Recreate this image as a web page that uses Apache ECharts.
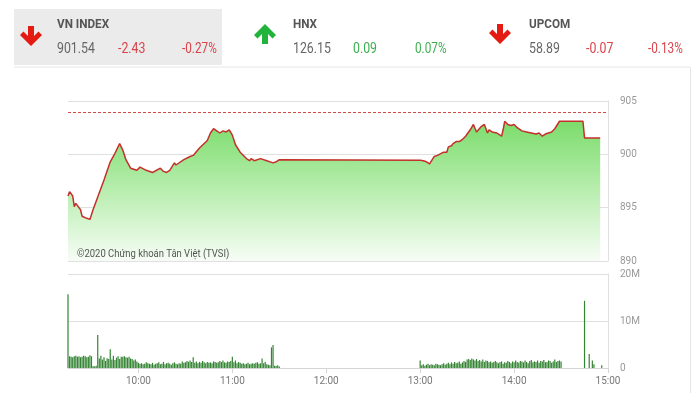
<!DOCTYPE html>
<html><head><meta charset="utf-8">
<script src="https://cdn.jsdelivr.net/npm/echarts@6/dist/echarts.min.js"></script>
<style>html,body{margin:0;padding:0;background:#fff}#c{width:700px;height:393px}</style>
</head><body><div id="c"></div>
<script>
// ---- Header tickers ----
const tickerNames = ['VN INDEX', 'HNX', 'UPCOM'];
const tickerValues = ['901.54', '126.15', '58.89'];
const tickerChanges = ['-2.43', '0.09', '-0.07'];
const tickerPercents = ['-0.27%', '0.07%', '-0.13%'];
const tickerUp = [false, true, false];

// ---- Intraday index line ----
const priceTimes = ['9:15','9:16','9:18','9:19','9:20','9:23','9:24','9:27','9:29','9:31','9:34','9:38','9:42','9:45','9:48','9:50','9:52','9:55','9:56','9:59',
 '10:01','10:05','10:09','10:14','10:16','10:18','10:20','10:23','10:24','10:29','10:33','10:35','10:39','10:44','10:46','10:48','10:50','10:52','10:54','10:56','10:58',
 '11:00','11:02','11:05','11:09','11:11','11:12','11:14','11:18','11:22','11:26','11:28','11:30',
 '13:00','13:02','13:04','13:06','13:09','13:11','13:15','13:17','13:18','13:20','13:21','13:23','13:25','13:27','13:29','13:32','13:34','13:35','13:36','13:39','13:41','13:42','13:43','13:44','13:46','13:49','13:52','13:53','13:54','13:56','13:58',
 '14:00','14:02','14:05','14:06','14:08','14:11','14:14','14:16','14:18','14:20','14:22','14:24','14:26','14:29','14:31','14:44','14:45','14:55'];
const priceValues = [896.1,896.5,896.1,895.1,895.4,894.8,894.2,894.0,893.9,894.8,896.0,897.6,899.3,900.1,901.0,900.4,899.5,898.7,898.7,898.5,
 898.8,898.5,898.3,898.7,898.4,898.3,898.5,899.2,899.0,899.5,899.8,899.9,900.6,901.3,902.0,902.4,902.2,902.0,902.2,902.1,902.3,
 901.8,900.9,900.2,899.6,899.4,899.6,899.4,899.6,899.4,899.2,899.3,899.5,
 899.45,899.4,899.3,899.1,899.8,899.9,900.2,900.2,900.7,900.8,901.0,901.2,901.2,901.4,901.7,902.3,902.8,902.8,902.1,902.6,902.8,902.4,902.0,902.3,902.1,902.0,901.7,902.3,903.1,902.8,902.7,
 902.8,902.5,902.2,902.3,902.1,902.0,901.9,902.0,901.7,901.9,902.0,902.1,902.4,903.1,903.1,903.1,901.54,901.54];
const refClose = 903.97;

// ---- Volume (millions), one bar per minute ----
const volAMStart = '9:15';
const volAM = [15.7,
 2.5,2.4,2.3,2.5,2.6,2.4,2.5,2.3,2.4,2.6,2.5,2.3,2.4,2.7,2.5,
 0.4,0.3,0.5,7.0,
 2.0,2.6,1.8,2.3,1.5,2.1,1.9,
 4.0,
 1.8,2.6,1.7,2.2,2.5,1.9,2.4,2.4,2.5,2.3,2.2,2.4,2.0,1.9,1.6,1.8,1.4,
 1.1,0.9,1.0,0.8,0.9,1.2,1.0,0.9,0.8,1.1,0.7,0.9,1.0,1.2,0.8,0.9,1.3,0.8,1.0,1.1,0.9,0.7,1.0,1.2,0.9,0.8,1.0,0.9,1.4,1.1,
 1.2,1.5,1.3,1.6,1.3,2.3,1.1,1.4,1.0,1.3,
 1.1,1.5,1.2,1.0,1.3,1.1,1.2,1.0,1.4,1.3,1.1,1.2,1.5,1.3,1.6,1.2,1.1,1.4,1.3,1.5,
 2.4,1.2,1.6,1.0,1.3,1.1,0.9,1.0,0.8,0.9,1.1,0.8,0.9,1.0,0.9,1.1,1.2,0.9,1.0,2.0,1.0,1.3,0.8,0.7,0.6,4.4,4.9,0.5,0.4,0.6,
 0.3];
const volPMStart = '13:00';
const volPM = [1.6,
 0.6,0.8,0.5,0.7,0.9,0.6,0.8,0.7,0.6,0.9,0.8,0.7,0.6,0.8,1.0,0.7,0.9,1.1,0.8,
 1.2,0.9,1.3,1.0,1.1,1.4,0.9,1.2,1.5,1.3,
 1.8,1.9,1.7,2.0,1.8,1.6,1.9,1.5,1.7,1.4,1.8,1.3,1.6,1.5,1.2,
 1.4,1.1,1.3,1.5,1.2,1.0,1.3,1.4,0.9,1.2,1.1,1.5,1.3,1.0,1.4,1.2,1.6,1.3,1.1,1.5,1.4,1.2,1.6,1.3,1.0,1.5,1.7,1.2,1.4,1.3,1.6,1.1,1.5,1.4,1.7,1.2,1.3,1.6,1.5,1.1,1.4,1.8,1.3,1.5,1.6,
 1.4];
const volATCTimes = ['14:45','14:48','14:50','14:51','14:56'];
const volATCValues = [14.3, 3.0, 1.6, 0.8, 0.6];

// ---- Axes ----
const xStart = '9:15', xEnd = '15:00';
const xTickLabels = ['10:00','11:00','12:00','13:00','14:00','15:00'];
const priceAxis = [890, 905, 5];
const volAxis = [0, 20, 10];
const watermark = '©2020 Chứng khoán Tân Việt (TVSI)';

function toMin(s){ const p = s.split(':'); return (+p[0])*60 + (+p[1]); }
function pad2(m){ const h = Math.floor(m/60), mm = m%60; return (h<10?'0':'')+h + ':' + (mm<10?'0':'') + mm; }

const priceData = priceTimes.map((t,i)=>[toMin(t), priceValues[i]]);
const volData = [];
volAM.forEach((v,i)=>volData.push([toMin(volAMStart)+i, v]));
volPM.forEach((v,i)=>volData.push([toMin(volPMStart)+i, v]));
volATCTimes.forEach((t,i)=>volData.push([toMin(t), volATCValues[i]]));
const hourTicks = xTickLabels.map(toMin);

// ---- Header graphics ----
const RED = '#e31b12', GREEN = '#21b33b';
function arrow(cx, cy, up, color){
  let pts = [[-3,-10],[3,-10],[3,0],[7.5,-4.5],[11,-1],[0,10],[-11,-1],[-7.5,-4.5],[-3,0]];
  if (up) pts = pts.map(p=>[p[0], -p[1]]);
  return {type:'polygon', shape:{points: pts.map(p=>[cx+p[0], cy+p[1]])}, style:{fill:color}, silent:true};
}
const colX = [[57,118,182],[293,353,415],[529,586,648]];
const arrowX = [31, 265, 500];
function txt(x, y, s, color, font, sx){
  return {type:'text', x:x, y:y, scaleX:sx, originX:0, originY:0, z:100,
    style:{text:s, fill:color, font:font, verticalAlign:'middle', align:'left'}};
}
const graphics = [
  {type:'rect', shape:{x:14,y:9,width:208,height:56}, style:{fill:'#ebebeb'}, z:-1},
  {type:'line', shape:{x1:14,y1:67,x2:690,y2:67}, style:{stroke:'#e6e6e6', lineWidth:1}},
  {type:'line', shape:{x1:690.5,y1:67,x2:690.5,y2:393}, style:{stroke:'#e6e6e6', lineWidth:1}},
  txt(77, 254, watermark, '#555', '11px Roboto', 0.86)
];
tickerNames.forEach((n,i)=>{
  const up = tickerUp[i];
  const cc = up ? '#3fae4f' : '#d9434a';
  graphics.push(arrow(arrowX[i], i===0?36:34, up, up?GREEN:RED));
  graphics.push(txt(colX[i][0], 25, n, '#555', 'bold 13px Roboto', 0.9));
  graphics.push(txt(colX[i][0], 49, tickerValues[i], '#666', '14px Roboto', 0.88));
  graphics.push(txt(colX[i][1], 49, tickerChanges[i], cc, '14px Roboto', 0.88));
  graphics.push(txt(colX[i][2], 49, tickerPercents[i], cc, '14px Roboto', 0.84));
});

const chart = echarts.init(document.getElementById('c'), null, {renderer:'canvas'});
chart.setOption({
  animation:false,
  backgroundColor:'#fff',
  textStyle:{fontFamily:'Roboto'},
  graphic: {elements: graphics},
  grid:[
    {left:68, right:92, top:101, height:160},
    {left:68, right:92, top:274, height:94}
  ],
  xAxis:[
    {type:'value', gridIndex:0, min:toMin(xStart), max:toMin(xEnd), axisLine:{show:false}, axisTick:{show:false}, axisLabel:{show:false}, splitLine:{show:false}},
    {type:'value', gridIndex:1, min:toMin(xStart), max:toMin(xEnd),
      axisLine:{show:true, lineStyle:{color:'#d5d5d5'}},
      axisTick:{show:true, customValues:hourTicks, length:5, lineStyle:{color:'#d5d5d5'}},
      axisLabel:{customValues:hourTicks, formatter:v=>pad2(v), color:'#777', fontSize:10, margin:8},
      splitLine:{show:false}}
  ],
  yAxis:[
    {type:'value', gridIndex:0, position:'right', min:priceAxis[0], max:priceAxis[1], interval:priceAxis[2],
      axisLine:{show:true, lineStyle:{color:'#e0e0e0'}}, axisTick:{show:false},
      axisLabel:{color:'#999', fontSize:10, margin:12},
      splitLine:{show:true, lineStyle:{color:'#e0e0e0'}}},
    {type:'value', gridIndex:1, position:'right', min:volAxis[0], max:volAxis[1], interval:volAxis[2],
      axisLine:{show:true, lineStyle:{color:'#e0e0e0'}}, axisTick:{show:false},
      axisLabel:{color:'#999', fontSize:10, margin:12, formatter:v=>v===0?'0':v+'M'},
      splitLine:{show:true, lineStyle:{color:'#e0e0e0'}}}
  ],
  series:[
    {type:'line', xAxisIndex:0, yAxisIndex:0, data:priceData, showSymbol:false, symbol:'none', z:2,
      lineStyle:{color:'#c4302a', width:1.5},
      areaStyle:{origin:'start', opacity:1, color:new echarts.graphic.LinearGradient(0,0,0,1,[
        {offset:0, color:'#7bdc6b'},
        {offset:0.5, color:'#b9eeb0'},
        {offset:1, color:'#f7fdf6'}])},
      markLine:{silent:true, symbol:'none', label:{show:false},
        lineStyle:{color:'#d24a42', type:[3,2], width:1},
        data:[{yAxis:refClose}]}
    },
    {type:'bar', xAxisIndex:1, yAxisIndex:1, data:volData, barWidth:1.2, itemStyle:{color:'#348434'}}
  ]
});
</script></body></html>
